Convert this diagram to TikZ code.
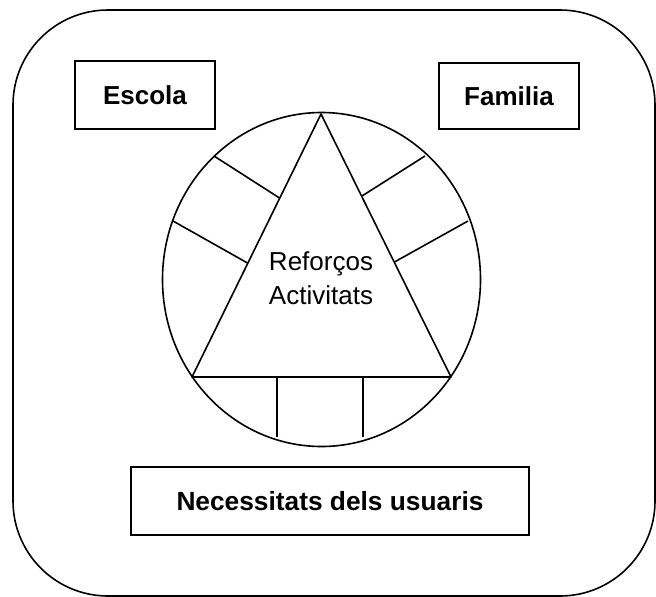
\documentclass[tikz,border=0pt]{standalone}
\usepackage{fontspec}
\setmainfont{Liberation Sans}
\usetikzlibrary{shapes.geometric}
\tikzset{
  line/.style={line width=1.6pt, line join=round},
  labelbox/.style={draw, line width=1.6pt, inner sep=0pt, font=\fontsize{26}{30}\selectfont\bfseries},
}
\begin{document}
\begin{tikzpicture}[x=1pt,y=-1pt]
\useasboundingbox (0,0) rectangle (656,597);
% outer frame
\draw[line, rounded corners=95pt] (13,10) rectangle (655,596);
% boxes
\node[labelbox, minimum width=140pt, minimum height=68pt] (escola) at (145,95) {Escola};
\node[labelbox, minimum width=140pt, minimum height=66pt] (familia) at (509,96) {Familia};
\node[labelbox, minimum width=398pt, minimum height=68pt, font=\fontsize{26.3}{30}\selectfont\bfseries] (necess) at (330,501) {Necessitats dels usuaris};
% circle
\node[draw, line width=1.6pt, ellipse, minimum width=318pt, minimum height=334pt, inner sep=0pt] (circ) at (321.5,279.5) {};
% triangle
\coordinate (apex) at (321,114);
\coordinate (bl) at (192,377);
\coordinate (br) at (451,377);
\draw[line] (apex) -- (bl) -- (br) -- cycle;
% side segments
\coordinate (l1a) at (214,156); \coordinate (l1b) at (279.5,198);
\coordinate (l2a) at (173,221); \coordinate (l2b) at (247.5,263);
\coordinate (r1a) at (425,156); \coordinate (r1b) at (362,196);
\coordinate (r2a) at (468,221); \coordinate (r2b) at (394.5,262);
\draw[line] (l1a) -- (l1b);
\draw[line] (l2a) -- (l2b);
\draw[line] (r1a) -- (r1b);
\draw[line] (r2a) -- (r2b);
% bottom segments
\coordinate (b1a) at (277,377); \coordinate (b1b) at (277,437);
\coordinate (b2a) at (363,377); \coordinate (b2b) at (363,437);
\draw[line] (b1a) -- (b1b);
\draw[line] (b2a) -- (b2b);
% center text
\node[font=\fontsize{26}{34}\selectfont, align=center, inner sep=0pt] (txt) at (321,278) {Reforços\\Activitats};
\end{tikzpicture}
\end{document}
